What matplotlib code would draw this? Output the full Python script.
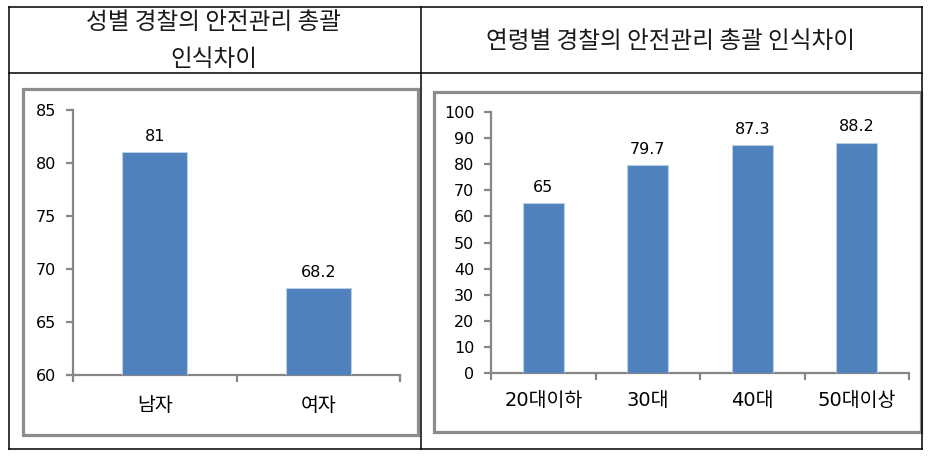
import matplotlib
matplotlib.use("Agg")
import matplotlib.pyplot as plt
from matplotlib.patches import Rectangle
from matplotlib.lines import Line2D

plt.rcParams['font.family'] = ['DejaVu Sans', 'Noto Sans CJK KR']

# ---- data ----
gender_title = "성별 경찰의 안전관리 총괄\n인식차이"
gender_labels = ["남자", "여자"]
gender_values = [81, 68.2]
gender_ticks = [60, 65, 70, 75, 80, 85]

age_title = "연령별 경찰의 안전관리 총괄 인식차이"
age_labels = ["20대이하", "30대", "40대", "50대이상"]
age_values = [65, 79.7, 87.3, 88.2]
age_ticks = [0, 10, 20, 30, 40, 50, 60, 70, 80, 90, 100]

W, H = 935, 461
fig = plt.figure(figsize=(W / 100, H / 100), dpi=100)
fig.patch.set_facecolor('white')


def fx(px):
    return px / W


def fy(py):
    return 1 - py / H


def axes_px(x0, y0, x1, y1):
    return fig.add_axes([fx(x0), fy(y1), fx(x1) - fx(x0), fy(y0) - fy(y1)])


BAR = '#4F81BD'
EDGE = '#B9CDE5'
GRAY = '#868686'
BOX = '#8C8C8C'

# chart frame boxes (gray)
for (x0, y0, x1, y1) in [(23, 89, 418, 435), (434, 92, 921, 432)]:
    fig.add_artist(Rectangle((fx(x0), fy(y1)), fx(x1) - fx(x0), fy(y0) - fy(y1),
                             transform=fig.transFigure, fill=False,
                             edgecolor=BOX, linewidth=2.3, zorder=1))

# table lines (black)
tl = dict(color='black', linewidth=1.1, transform=fig.transFigure, zorder=5)
fig.add_artist(Line2D([fx(9), fx(922)], [fy(7), fy(7)], **tl))
fig.add_artist(Line2D([fx(9), fx(922)], [fy(73), fy(73)], **tl))
fig.add_artist(Line2D([fx(9), fx(922)], [fy(449), fy(449)], **tl))
for x in (9, 421, 922):
    fig.add_artist(Line2D([fx(x), fx(x)], [fy(7), fy(449)], **tl))

# titles
fig.text(fx(214), fy(41), gender_title, ha='center', va='center',
         fontsize=17, family=['Noto Sans CJK KR'], color='#1a1a1a',
         linespacing=1.8)
fig.text(fx(671), fy(42), age_title, ha='center', va='center',
         fontsize=17, family=['Noto Sans CJK KR'], color='#1a1a1a')


def draw(ax, labels, values, ticks, width, xpad):
    n = len(labels)
    pos = list(range(n))
    bars = ax.bar(pos, values, width=width, color=BAR, edgecolor=EDGE,
                  linewidth=0.8, zorder=3)
    ax.set_xlim(-0.5, n - 0.5)
    ax.set_ylim(ticks[0], ticks[-1])
    ax.set_yticks(ticks)
    ax.set_yticklabels([str(t) for t in ticks])
    ax.set_xticks([i - 0.5 for i in range(n + 1)])
    ax.set_xticklabels([])
    ax.set_xticks(pos, labels, minor=True)
    for s in ('top', 'right'):
        ax.spines[s].set_visible(False)
    for s in ('left', 'bottom'):
        ax.spines[s].set_color(GRAY)
        ax.spines[s].set_linewidth(1.6)
    ax.tick_params(axis='y', which='major', length=5, width=1.6, color=GRAY,
                   labelsize=11.5, pad=7, labelcolor='black')
    ax.tick_params(axis='x', which='major', length=5, width=1.6, color=GRAY)
    ax.tick_params(axis='x', which='minor', length=0, labelsize=14, pad=xpad,
                   labelcolor='black')
    ax.set_facecolor('none')
    ax.bar_label(bars, labels=[f"{v:g}" for v in values], padding=6,
                 fontsize=11.5, color='black')


ax1 = axes_px(73, 110, 400, 375)
draw(ax1, gender_labels, gender_values, gender_ticks, 0.40, 15)

ax2 = axes_px(491, 112, 909, 373)
draw(ax2, age_labels, age_values, age_ticks, 0.39, 13)

fig.savefig('out.png', dpi=100, facecolor='white')
